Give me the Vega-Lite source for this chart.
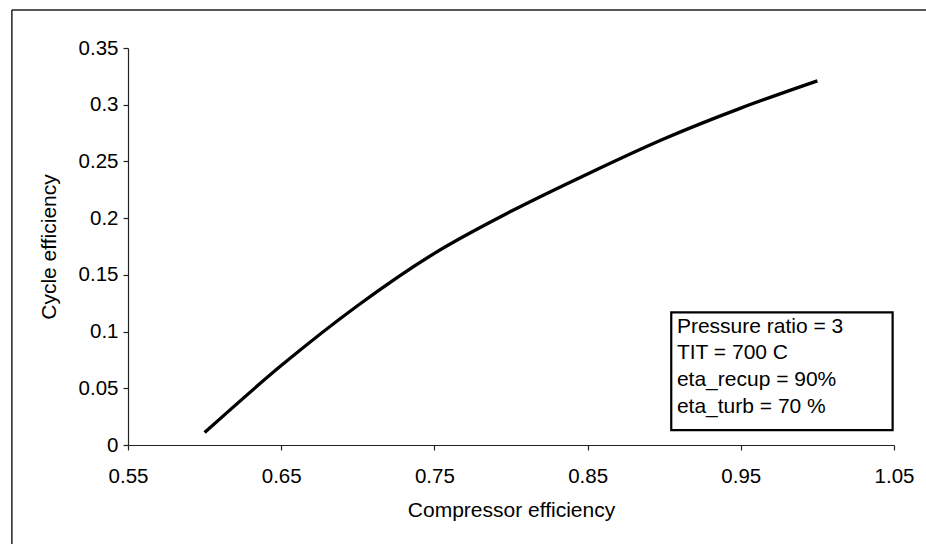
{
  "$schema": "https://vega.github.io/schema/vega-lite/v6.json",
  "width": 766,
  "height": 397,
  "autosize": {"type": "none"},
  "padding": {"left": 128, "top": 48, "right": 36, "bottom": 103},
  "background": "white",
  "config": {
    "font": "Liberation Sans",
    "view": {"stroke": null},
    "axis": {"grid": false, "domainColor": "#222", "tickColor": "#222", "labelColor": "black", "titleColor": "black", "labelFont": "Liberation Sans", "titleFont": "Liberation Sans", "labelFontSize": 20.5, "titleFontSize": 21, "titleFontWeight": "normal", "tickSize": 5, "domainWidth": 1.2, "tickWidth": 1.2}
  },
  "datasets": {
    "curve": [
      {"x": 0.60, "y": 0.011},
      {"x": 0.65, "y": 0.070},
      {"x": 0.70, "y": 0.123},
      {"x": 0.75, "y": 0.169},
      {"x": 0.80, "y": 0.206},
      {"x": 0.85, "y": 0.239},
      {"x": 0.90, "y": 0.270},
      {"x": 0.95, "y": 0.297},
      {"x": 1.00, "y": 0.321}
    ],
    "frame": [
      {"x": 0.4742, "x2": 0.4742, "y": -0.089, "y2": 0.3835},
      {"x": 0.4742, "x2": 1.0784, "y": 0.3835, "y2": 0.3835}
    ],
    "box": [{"x": 0.9046, "x2": 1.0491, "y": 0.117, "y2": 0.0132}],
    "notes": [
      {"x": 0.9083, "y": 0.1043, "label": "Pressure ratio = 3"},
      {"x": 0.9083, "y": 0.0811, "label": "TIT = 700 C"},
      {"x": 0.9083, "y": 0.0573, "label": "eta_recup = 90%"},
      {"x": 0.9083, "y": 0.0338, "label": "eta_turb = 70 %"}
    ]
  },
  "encoding": {
    "x": {
      "field": "x", "type": "quantitative",
      "scale": {"domain": [0.55, 1.05], "nice": false, "zero": false},
      "axis": {"title": "Compressor efficiency", "values": [0.55, 0.65, 0.75, 0.85, 0.95, 1.05], "format": ".2~f", "labelPadding": 16, "titlePadding": 13, "labelFlush": false}
    },
    "y": {
      "field": "y", "type": "quantitative",
      "scale": {"domain": [0, 0.35], "nice": false, "zero": false},
      "axis": {"title": "Cycle efficiency", "values": [0, 0.05, 0.1, 0.15, 0.2, 0.25, 0.3, 0.35], "format": ".2~f", "labelPadding": 5, "titlePadding": 19, "labelFlush": false}
    }
  },
  "layer": [
    {
      "data": {"name": "frame"},
      "mark": {"type": "rule", "color": "#222", "strokeWidth": 1.5},
      "encoding": {"x2": {"field": "x2"}, "y2": {"field": "y2"}}
    },
    {
      "data": {"name": "curve"},
      "mark": {"type": "line", "color": "black", "strokeWidth": 3.3, "interpolate": "monotone"}
    },
    {
      "data": {"name": "box"},
      "mark": {"type": "rect", "fill": "white", "stroke": "black", "strokeWidth": 2.2},
      "encoding": {"x2": {"field": "x2"}, "y2": {"field": "y2"}}
    },
    {
      "data": {"name": "notes"},
      "mark": {"type": "text", "align": "left", "baseline": "middle", "fontSize": 21, "color": "black", "font": "Liberation Sans"},
      "encoding": {"text": {"field": "label"}}
    }
  ]
}
